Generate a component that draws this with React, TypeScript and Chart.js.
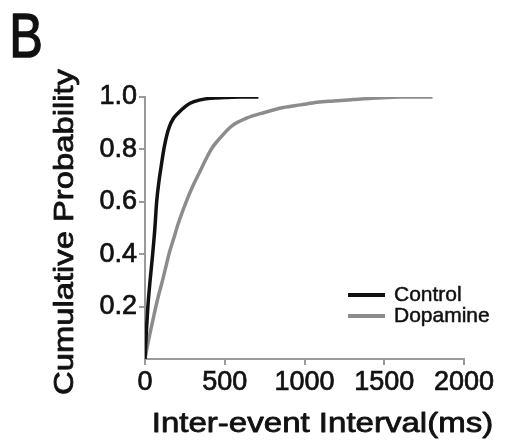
import React, { useEffect, useRef } from "react";
import { Chart, registerables } from "chart.js";

Chart.register(...registerables);

// Data
const controlX = [0, 8, 18, 32, 48, 62, 73, 88, 100, 118, 135, 153, 175, 210, 250, 283, 340, 409, 500, 600, 711];
const controlY = [0, 0.1, 0.2, 0.3, 0.4, 0.5, 0.6, 0.68, 0.73, 0.8, 0.85, 0.887, 0.915, 0.94, 0.962, 0.976, 0.988, 0.995, 0.998, 1.0, 1.0];
const dopamineX = [0, 15, 32, 50, 68, 88, 110, 130, 150, 180, 210, 258, 300, 340, 415, 480, 545, 640, 743, 868, 975, 1080, 1183, 1300, 1450, 1600, 1803];
const dopamineY = [0, 0.05, 0.1, 0.15, 0.2, 0.25, 0.3, 0.35, 0.4, 0.46, 0.52, 0.6, 0.66, 0.71, 0.8, 0.85, 0.89, 0.92, 0.94, 0.96, 0.97, 0.98, 0.985, 0.99, 0.996, 1.0, 1.0];

const seriesLabels = ["Control", "Dopamine"];
const seriesColors = ["#111111", "#8c8c8c"];
const xTickValues = [0, 500, 1000, 1500, 2000];
const yTickValues = [0.2, 0.4, 0.6, 0.8, 1.0];
const panelLabel = "B";
const xTitle = "Inter-event Interval(ms)";
const yTitle = "Cumulative Probability";

const FONT = "'Liberation Sans', Arial, Helvetica, sans-serif";
const TEXT = "#111";

const toPoints = (xs: number[], ys: number[]) => xs.map((x, i) => ({ x, y: ys[i] }));

const drawStretched = (ctx: any, text: string, x: number, y: number, font: string, sx: number, rot: number, stroke: number) => {
  ctx.save();
  ctx.translate(x, y);
  ctx.rotate(rot);
  ctx.scale(sx, 1);
  ctx.font = font;
  ctx.fillStyle = TEXT;
  ctx.strokeStyle = TEXT;
  ctx.lineWidth = stroke;
  ctx.lineJoin = "round";
  ctx.textAlign = "center";
  ctx.textBaseline = "middle";
  ctx.fillText(text, 0, 0);
  if (stroke > 0) ctx.strokeText(text, 0, 0);
  ctx.restore();
};

const textPlugin = {
  id: "legendAndTitles",
  afterDraw(chart: any) {
    const { ctx, chartArea } = chart;
    ctx.save();
    // legend
    chart.data.datasets.forEach((ds: any, i: number) => {
      const y = chartArea.top + 198 + i * 21;
      ctx.strokeStyle = ds.borderColor;
      ctx.lineWidth = 4;
      ctx.lineCap = "butt";
      ctx.beginPath();
      ctx.moveTo(chartArea.left + 203, y);
      ctx.lineTo(chartArea.left + 240, y);
      ctx.stroke();
      ctx.fillStyle = TEXT;
      ctx.strokeStyle = TEXT;
      ctx.lineWidth = 0.5;
      ctx.font = `21px ${FONT}`;
      ctx.textBaseline = "middle";
      ctx.textAlign = "left";
      ctx.fillText(ds.label, chartArea.left + 249, y);
      ctx.strokeText(ds.label, chartArea.left + 249, y);
    });
    ctx.restore();
    // panel label
    drawStretched(ctx, panelLabel, 26, 40, `63px ${FONT}`, 0.8, 0, 1.5);
    // axis titles
    drawStretched(ctx, xTitle, (chartArea.left + chartArea.right) / 2 + 18, chartArea.bottom + 65, `28px ${FONT}`, 1.18, 0, 0.8);
    drawStretched(ctx, yTitle, 65, (chartArea.top + chartArea.bottom) / 2 + 4, `28px ${FONT}`, 1.17, -Math.PI / 2, 0.8);
  },
};

export default function App() {
  const canvasRef = useRef<HTMLCanvasElement | null>(null);

  useEffect(() => {
    const canvas = canvasRef.current;
    if (!canvas) return;
    const chart = new Chart(canvas, {
      type: "scatter",
      data: {
        datasets: [
          {
            label: seriesLabels[0],
            data: toPoints(controlX, controlY),
            showLine: true,
            borderColor: seriesColors[0],
            backgroundColor: seriesColors[0],
            borderWidth: 3.5,
            pointRadius: 0,
            cubicInterpolationMode: "monotone",
          },
          {
            label: seriesLabels[1],
            data: toPoints(dopamineX, dopamineY),
            showLine: true,
            borderColor: seriesColors[1],
            backgroundColor: seriesColors[1],
            borderWidth: 3.5,
            pointRadius: 0,
            cubicInterpolationMode: "monotone",
          },
        ],
      },
      options: {
        responsive: false,
        animation: false,
        layout: { padding: { left: 10, right: 47, top: 97, bottom: 0 } },
        plugins: {
          legend: { display: false },
          tooltip: { enabled: false },
          title: { display: false },
        },
        scales: {
          x: {
            type: "linear",
            min: 0,
            max: 2000,
            afterFit: (s: any) => {
              s.height = 85;
            },
            afterBuildTicks: (s: any) => {
              s.ticks = xTickValues.map((v) => ({ value: v }));
            },
            ticks: {
              color: TEXT,
              font: { family: FONT, size: 27 },
              padding: 1,
              maxRotation: 0,
              textStrokeColor: TEXT,
              textStrokeWidth: 0.7,
              callback: (v: any) => String(v),
            },
            grid: {
              display: true,
              drawOnChartArea: false,
              drawTicks: true,
              tickLength: 6,
              color: "#9a9a9a",
              lineWidth: 2,
            },
            border: { display: true, color: "#9a9a9a", width: 2 },
            title: { display: false },
          },
          y: {
            type: "linear",
            min: 0,
            max: 1,
            afterFit: (s: any) => {
              s.width = 135;
            },
            afterBuildTicks: (s: any) => {
              s.ticks = yTickValues.map((v) => ({ value: v }));
            },
            ticks: {
              color: TEXT,
              font: { family: FONT, size: 27 },
              padding: 2,
              textStrokeColor: TEXT,
              textStrokeWidth: 0.7,
              callback: (v: any) => Number(v).toFixed(1),
            },
            grid: {
              display: true,
              drawOnChartArea: false,
              drawTicks: true,
              tickLength: 6,
              color: "#9a9a9a",
              lineWidth: 2,
            },
            border: { display: true, color: "#9a9a9a", width: 2 },
            title: { display: false },
          },
        },
      },
      plugins: [textPlugin],
    });
    return () => chart.destroy();
  }, []);

  return (
    <canvas
      ref={canvasRef}
      width={511}
      height={444}
      style={{ position: "fixed", left: 0, top: 0, width: 511, height: 444, display: "block", background: "#fff" }}
    />
  );
}
